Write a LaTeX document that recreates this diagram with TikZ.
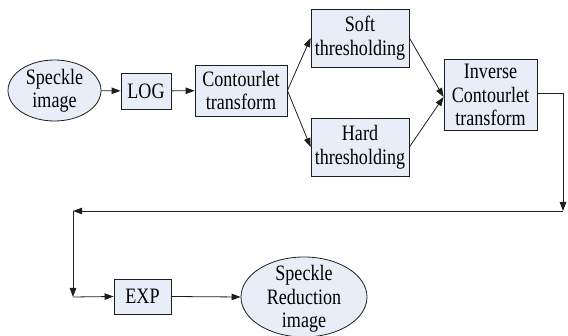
\documentclass[tikz,border=0pt]{standalone}
\usepackage{fontspec}
\setmainfont[FakeStretch=0.82]{Liberation Serif}
\usetikzlibrary{arrows.meta,shapes.geometric}
\definecolor{boxfill}{RGB}{232,238,247}
\definecolor{linec}{RGB}{30,30,30}
\tikzset{
  base/.style={draw=linec, line width=0.8pt, fill=boxfill, inner sep=0pt},
  blk/.style={base, rectangle, align=center, font=\fontsize{22}{23.5}\selectfont},
  ell/.style={base, ellipse},
  lbl/.style={align=center, inner sep=0pt, font=\fontsize{22}{23.5}\selectfont},
  arr/.style={draw=linec, line width=0.8pt, -{Triangle[length=9pt,width=6.5pt]}},
}
\begin{document}
\begin{tikzpicture}[x=1pt,y=-1pt]
\useasboundingbox (0,0) rectangle (568,336);
% nodes
\node[ell, minimum width=93pt, minimum height=61pt] (spk) at (54.5,90.5) {};
\node[lbl] (spkt) at (spk) {Speckle\\image};
\node[blk, minimum width=50pt, minimum height=36pt] (log) at (146,91) {LOG};
\node[blk, minimum width=92pt, minimum height=51pt] (ct) at (241,90.5) {Contourlet\\transform};
\node[blk, minimum width=98pt, minimum height=58pt] (soft) at (360,38) {Soft\\thresholding};
\node[blk, minimum width=98pt, minimum height=58pt] (hard) at (360,147) {Hard\\thresholding};
\node[blk, minimum width=93pt, minimum height=71pt] (inv) at (490.5,95) {Inverse\\Contourlet\\transform};
\node[blk, minimum width=57pt, minimum height=35pt] (exp) at (142.5,296.5) {EXP};
\node[ell, minimum width=126pt, minimum height=80pt] (sri) at (304,297) {};
\node[lbl] (srit) at (304,299) {Speckle\\Reduction\\image};
\coordinate (c1) at (563,211);
\coordinate (c2) at (73,211);
\coordinate (c3) at (73,297);
% connectors
\draw[arr] (spk) -- (log);
\draw[arr] (log) -- (ct);
\draw[arr] (ct.east) -- (soft.west);
\draw[arr] (ct.east) -- (hard.west);
\draw[arr] (soft.east) -- ([yshift=-2pt]inv.west);
\draw[arr] (hard.east) -- ([yshift=-2pt]inv.west);
\draw[arr] ([yshift=2pt]inv.east) -| (c1);
\draw[arr] (c1) -- (c2);
\draw[arr] (c2) -- (c3);
\draw[arr] (c3) -- (exp.west);
\draw[arr] (exp.east) -- (sri.west);
\end{tikzpicture}
\end{document}
